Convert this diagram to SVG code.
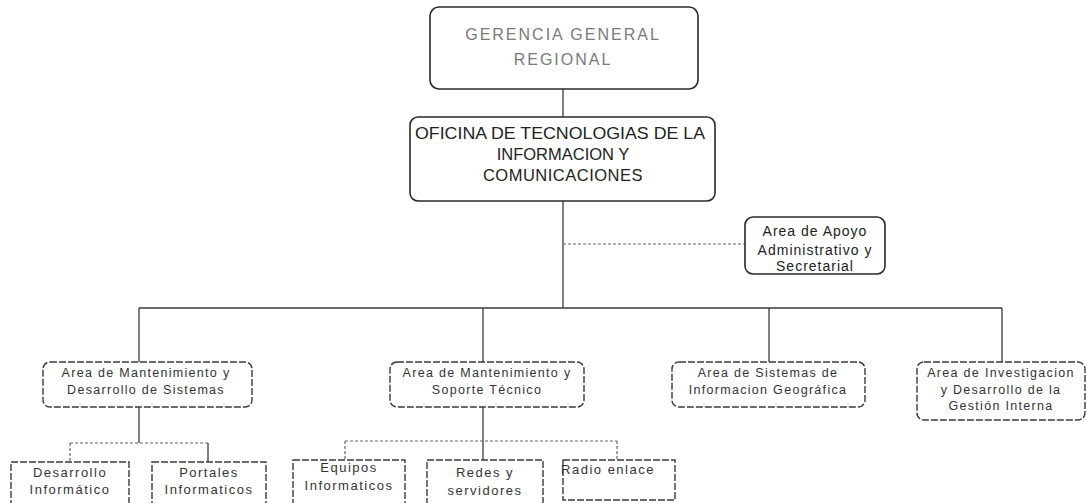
<svg xmlns="http://www.w3.org/2000/svg" width="1087" height="503" viewBox="0 0 1087 503">
<style>
.bg{fill:#ffffff}
.box{fill:#ffffff;stroke:#2a2a2a;stroke-width:1.6}
.boxd{fill:#ffffff;stroke:#3a3a3a;stroke-width:1.4;stroke-dasharray:7 2}
.ln{stroke:#3a3a3a;stroke-width:1.3;fill:none}
.lnd{stroke:#666;stroke-width:1.2;fill:none;stroke-dasharray:3 2}
.t1{font-family:"Liberation Sans",Arial,sans-serif;font-size:16px;fill:#7a7a7a;text-anchor:middle;letter-spacing:2px}
.t2{font-family:"Liberation Sans",Arial,sans-serif;font-size:16.5px;fill:#222;text-anchor:middle}
.t3{font-family:"Liberation Sans",Arial,sans-serif;font-size:12.5px;fill:#333;text-anchor:middle;letter-spacing:1.3px}
.t4{font-family:"Liberation Sans",Arial,sans-serif;font-size:14px;fill:#222;text-anchor:middle;letter-spacing:1px}
.t5{font-family:"Liberation Sans",Arial,sans-serif;font-size:13px;fill:#333;text-anchor:middle;letter-spacing:1.5px}
</style>
<rect class="bg" x="0" y="0" width="1087" height="503"/>
<g id="connectors">
<line class="ln" x1="563" y1="89" x2="563" y2="117"/>
<line class="ln" x1="563" y1="201" x2="563" y2="308"/>
<line class="lnd" x1="563" y1="244" x2="745" y2="244"/>
<line class="ln" x1="139" y1="308" x2="1002" y2="308"/>
<line class="ln" x1="139" y1="308" x2="139" y2="362"/>
<line class="ln" x1="483" y1="308" x2="483" y2="362"/>
<line class="ln" x1="769" y1="308" x2="769" y2="362"/>
<line class="ln" x1="1002" y1="308" x2="1002" y2="362"/>
<line class="ln" x1="139" y1="407" x2="139" y2="443"/>
<line class="lnd" x1="70" y1="443" x2="208" y2="443"/>
<line class="lnd" x1="70" y1="443" x2="70" y2="462"/>
<line class="ln" x1="208" y1="443" x2="208" y2="462"/>
<line class="ln" x1="483" y1="407" x2="483" y2="460"/>
<line class="lnd" x1="345" y1="441" x2="617" y2="441"/>
<line class="lnd" x1="345" y1="441" x2="345" y2="460"/>
<line class="lnd" x1="617" y1="441" x2="617" y2="460"/>
</g>
<g id="gerencia">
<rect class="box" x="430" y="7" width="268" height="82" rx="9"/>
<text class="t1" x="563" y="40">GERENCIA GENERAL</text>
<text class="t1" x="563" y="65">REGIONAL</text>
</g>
<g id="otic">
<rect class="box" x="410" y="117" width="305" height="84" rx="8"/>
<text class="t2" x="560" y="139" textLength="290" lengthAdjust="spacingAndGlyphs">OFICINA DE TECNOLOGIAS DE LA</text>
<text class="t2" x="563" y="160">INFORMACION Y</text>
<text class="t2" x="563" y="181" letter-spacing="0.5">COMUNICACIONES</text>
</g>
<g id="apoyo">
<rect class="box" x="745" y="217" width="140" height="57" rx="8"/>
<text class="t4" x="815" y="236">Area de Apoyo</text>
<text class="t4" x="815" y="255">Administrativo y</text>
<text class="t4" x="815" y="271">Secretarial</text>
</g>
<g id="area-mds">
<rect class="boxd" x="43" y="362" width="209" height="45" rx="7"/>
<text class="t3" x="146" y="377">Area de Mantenimiento y</text>
<text class="t3" x="146" y="394">Desarrollo de Sistemas</text>
</g>
<g id="area-mst">
<rect class="boxd" x="390" y="362" width="194" height="45" rx="7"/>
<text class="t3" x="487" y="377">Area de Mantenimiento y</text>
<text class="t3" x="487" y="394">Soporte Técnico</text>
</g>
<g id="area-sig">
<rect class="boxd" x="672" y="362" width="193" height="45" rx="7"/>
<text class="t3" x="768" y="377">Area de Sistemas de</text>
<text class="t3" x="768" y="394">Informacion Geográfica</text>
</g>
<g id="area-idgi">
<rect class="boxd" x="917" y="362" width="168" height="58" rx="7"/>
<text class="t3" x="1001" y="377">Area de Investigacion</text>
<text class="t3" x="1001" y="394">y Desarrollo de la</text>
<text class="t3" x="1001" y="410">Gestión Interna</text>
</g>
<g id="desarrollo">
<rect class="boxd" x="11" y="462" width="118" height="44"/>
<text class="t5" x="70" y="477">Desarrollo</text>
<text class="t5" x="70" y="494">Informático</text>
</g>
<g id="portales">
<rect class="boxd" x="152" y="462" width="114" height="44"/>
<text class="t5" x="209" y="477">Portales</text>
<text class="t5" x="209" y="494">Informaticos</text>
</g>
<g id="equipos">
<rect class="boxd" x="293" y="460" width="112" height="46"/>
<text class="t5" x="349" y="472">Equipos</text>
<text class="t5" x="349" y="490">Informaticos</text>
</g>
<g id="redes">
<rect class="boxd" x="427" y="460" width="116" height="46"/>
<text class="t5" x="485" y="477">Redes y</text>
<text class="t5" x="485" y="495">servidores</text>
</g>
<g id="radio">
<rect class="boxd" x="563" y="460" width="112" height="40"/>
<text class="t5" x="608" y="474">Radio enlace</text>
</g>
</svg>
